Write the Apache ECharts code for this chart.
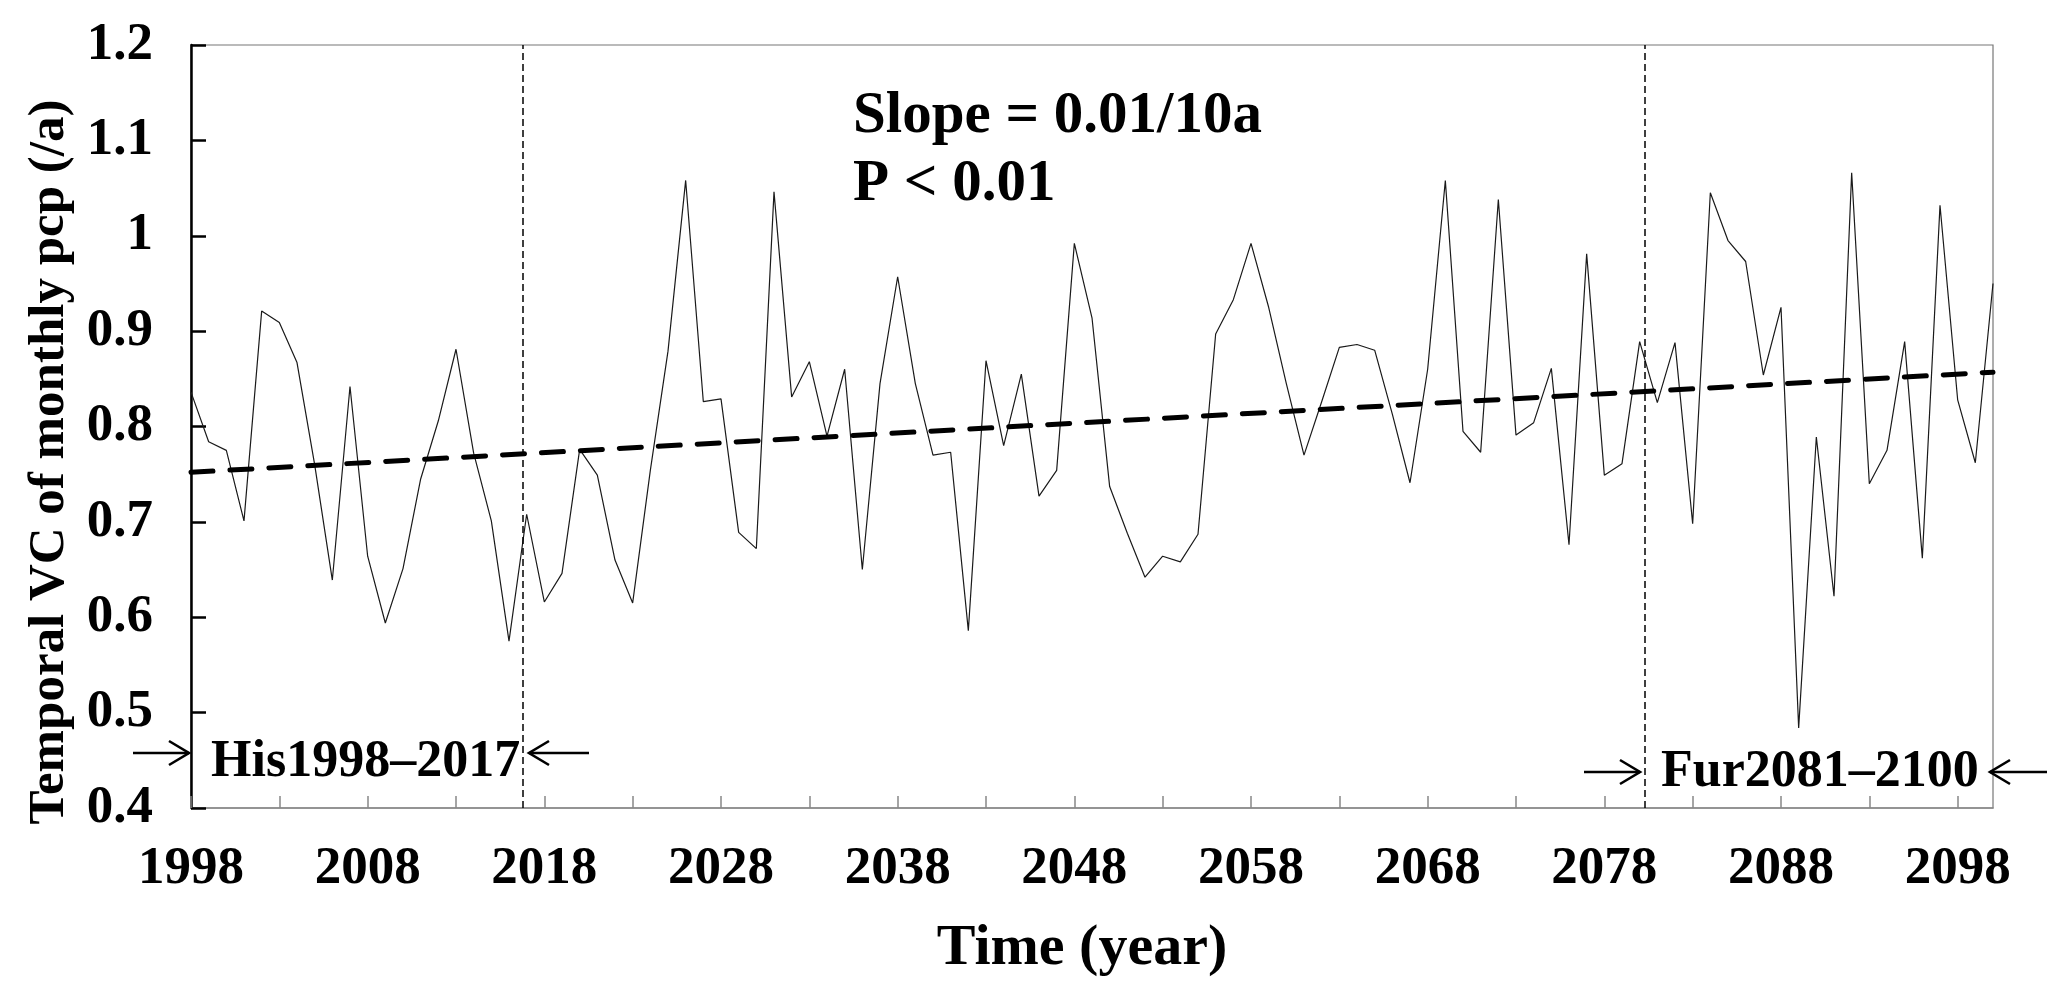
<!DOCTYPE html>
<html>
<head>
<meta charset="utf-8">
<script src="https://cdn.jsdelivr.net/npm/echarts@6/dist/echarts.min.js"></script>
<style>
html,body{margin:0;padding:0;background:#fff;}
#chart{width:2067px;height:1006px;}
</style>
</head>
<body>
<div id="chart"></div>
<script>
var years = [
 '1998','1999','2000','2001','2002','2003','2004','2005','2006','2007',
 '2008','2009','2010','2011','2012','2013','2014','2015','2016','2017',
 '2018','2019','2020','2021','2022','2023','2024','2025','2026','2027',
 '2028','2029','2030','2031','2032','2033','2034','2035','2036','2037',
 '2038','2039','2040','2041','2042','2043','2044','2045','2046','2047',
 '2048','2049','2050','2051','2052','2053','2054','2055','2056','2057',
 '2058','2059','2060','2061','2062','2063','2064','2065','2066','2067',
 '2068','2069','2070','2071','2072','2073','2074','2075','2076','2077',
 '2078','2079','2080','2081','2082','2083','2084','2085','2086','2087',
 '2088','2089','2090','2091','2092','2093','2094','2095','2096','2097',
 '2098','2099','2100'
];
var vcValues = [
 0.836,0.784,0.775,0.701,0.921,0.909,0.867,0.760,0.639,0.842,
 0.664,0.594,0.651,0.745,0.806,0.881,0.772,0.701,0.575,0.708,
 0.616,0.646,0.776,0.749,0.660,0.615,0.754,0.879,1.058,0.826,
 0.829,0.689,0.672,1.046,0.831,0.868,0.790,0.860,0.650,0.845,
 0.957,0.845,0.770,0.773,0.586,0.869,0.780,0.855,0.727,0.754,
 0.992,0.914,0.737,0.688,0.642,0.664,0.658,0.687,0.897,0.933,
 0.992,0.925,0.845,0.770,0.826,0.883,0.886,0.880,0.813,0.741,
 0.860,1.058,0.795,0.773,1.038,0.791,0.804,0.861,0.676,0.981,
 0.749,0.761,0.889,0.825,0.888,0.698,1.045,0.995,0.973,0.854,
 0.925,0.484,0.789,0.622,1.066,0.740,0.775,0.889,0.662,1.032,
 0.828,0.762,0.950
];
var trendPoints = [[1998, 0.752], [2100, 0.857]];
var periodBounds = [2016.8, 2080.3];
var yTicks = {min: 0.4, max: 1.2, interval: 0.1};
var slopeText = 'Slope = 0.01/10a';
var pText = 'P < 0.01';
var hisText = 'His1998\u20132017';
var furText = 'Fur2081\u20132100';

var FONT = '"Liberation Serif","Times New Roman",serif';
var chart = echarts.init(document.getElementById('chart'));

function txt(x, y, text, size, align, rot) {
  return {
    type: 'text', x: x, y: y, rotation: rot || 0, z: 100,
    style: {
      text: text,
      font: 'bold ' + size + 'px ' + FONT,
      fill: '#000',
      textAlign: align || 'left',
      textVerticalAlign: 'middle'
    }
  };
}
// arrow drawn as decoration: shaft from (x0,y) to tip (x1,y)
function arrow(x0, x1, y) {
  var dir = x1 > x0 ? 1 : -1;
  var back = 20 * dir, half = 12;
  return {
    type: 'group', z: 100,
    children: [
      {type: 'polyline', shape: {points: [[x0, y], [x1, y]]},
       style: {stroke: '#000', lineWidth: 2.6, fill: null}},
      {type: 'polyline', shape: {points: [[x1 - back, y - half], [x1, y], [x1 - back, y + half]]},
       style: {stroke: '#000', lineWidth: 2.6, fill: null, lineJoin: 'miter'}}
    ]
  };
}

chart.setOption({
  animation: false,
  backgroundColor: '#fff',
  grid: {left: 191, right: 74, top: 45, bottom: 198, show: true,
         borderColor: '#777', borderWidth: 1.2},
  xAxis: [{
    type: 'category', data: years, boundaryGap: false,
    axisLine: {lineStyle: {color: '#888', width: 1.5}},
    axisTick: {inside: true, interval: 4, length: 12, lineStyle: {color: '#888', width: 1.5}},
    axisLabel: {interval: 9, margin: 35, color: '#000', fontFamily: FONT,
                fontWeight: 'bold', fontSize: 53},
    splitLine: {show: false}
  }, {
    type: 'value', min: 1998, max: 2100, show: false, splitLine: {show: false}
  }],
  yAxis: {
    type: 'value', min: yTicks.min, max: yTicks.max, interval: yTicks.interval,
    axisLine: {show: true, lineStyle: {color: '#000', width: 2.5}},
    axisTick: {inside: true, length: 15, lineStyle: {color: '#000', width: 2.5}},
    axisLabel: {margin: 38, color: '#000', fontFamily: FONT, fontWeight: 'bold', fontSize: 53},
    splitLine: {show: false}
  },
  series: [{
    type: 'line', data: vcValues, xAxisIndex: 0, symbol: 'none',
    lineStyle: {color: '#1a1a1a', width: 1.2}, z: 3
  }, {
    type: 'line', data: trendPoints, xAxisIndex: 1, symbol: 'none',
    lineStyle: {color: '#000', width: 5, type: [22, 17], cap: 'round'}, z: 4,
    markLine: {
      silent: true, symbol: 'none', label: {show: false},
      lineStyle: {color: '#000', width: 1.5, type: [7, 4]},
      data: periodBounds.map(function (v) { return {xAxis: v}; })
    }
  }],
  graphic: [
    txt(50, 462, 'Temporal VC of monthly pcp (/a)', 51, 'center', Math.PI / 2),
    txt(1082, 949, 'Time (year)', 58, 'center'),
    txt(853, 117, slopeText, 59, 'left'),
    txt(853, 185, pText, 59, 'left'),
    txt(211, 763, hisText, 52, 'left'),
    txt(1661, 773, furText, 52, 'left'),
    arrow(133, 189, 753),
    arrow(589, 529, 753),
    arrow(1584, 1640, 772),
    arrow(2047, 1990, 772)
  ]
});
</script>
</body>
</html>
